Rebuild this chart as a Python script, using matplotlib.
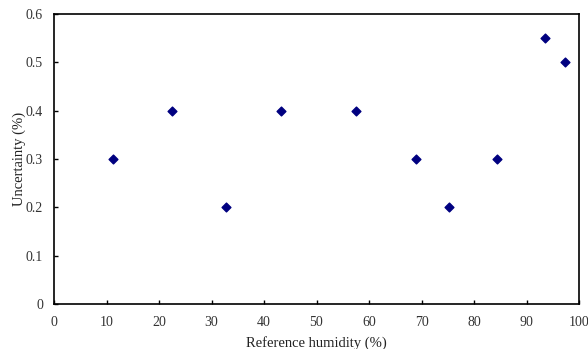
import matplotlib.pyplot as plt

# saturated salt reference humidities and uncertainty
humidity = [11.3, 22.5, 32.8, 43.2, 57.6, 68.9, 75.3, 84.3, 93.6, 97.3]
uncertainty = [0.3, 0.4, 0.2, 0.4, 0.4, 0.3, 0.2, 0.3, 0.55, 0.5]

plt.rcParams['font.family'] = 'Liberation Serif'
plt.rcParams['font.size'] = 10

fig = plt.figure(figsize=(5.88, 3.49), dpi=100)
ax = fig.add_axes([54 / 588, 1 - 304 / 349, 525 / 588, 290 / 349])

ax.scatter(humidity, uncertainty, marker='D', s=20, color='#000080', zorder=3)

ax.set_xlim(0, 100)
ax.set_ylim(0, 0.6)
ax.set_xticks(range(0, 101, 10))
ax.set_yticks([0, 0.1, 0.2, 0.3, 0.4, 0.5, 0.6])
ax.set_yticklabels(['0', '0.1', '0.2', '0.3', '0.4', '0.5', '0.6'])
ax.tick_params(direction='in', length=3, width=1, colors='black', labelcolor='#333333')
ax.tick_params(axis='x', pad=9)
ax.tick_params(axis='y', pad=8)
for s in ax.spines.values():
    s.set_linewidth(1.2)

ax.set_xlabel('Reference humidity (%)', fontsize=10.5, labelpad=5, color='#222222')
ax.set_ylabel('Uncertainty (%)', fontsize=10.5, labelpad=0, color='#222222')

fig.savefig('out.png', dpi=100)
